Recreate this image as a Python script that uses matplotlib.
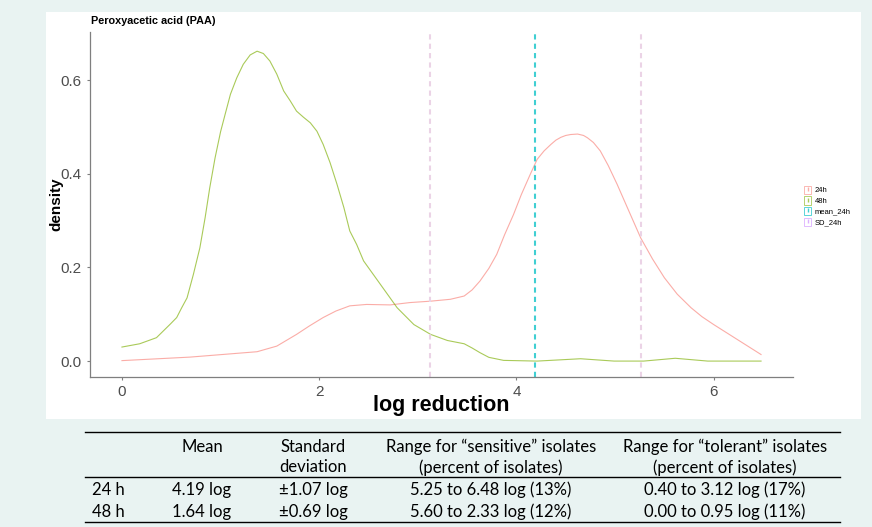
import matplotlib
matplotlib.use("Agg")
import matplotlib.pyplot as plt
from matplotlib.lines import Line2D
from matplotlib.patches import Patch, Rectangle

# density curves
x_24h = [0, 0.69, 1.37, 1.57, 1.77, 1.90, 2.04, 2.17, 2.31, 2.48, 2.72, 2.92, 3.13,
         3.33, 3.47, 3.55, 3.63, 3.72, 3.80, 3.88, 3.97, 4.05, 4.14, 4.21, 4.28,
         4.35, 4.40, 4.45, 4.50, 4.55, 4.62, 4.68, 4.72, 4.78, 4.85, 4.93, 5.02,
         5.12, 5.26, 5.38, 5.50, 5.63, 5.77, 5.88, 6.00, 6.24, 6.48]
d_24h = [0.001, 0.0085, 0.02, 0.032, 0.057, 0.075, 0.093, 0.107, 0.118, 0.121, 0.120,
         0.125, 0.128, 0.132, 0.139, 0.152, 0.171, 0.198, 0.228, 0.27, 0.313, 0.356,
         0.399, 0.431, 0.449, 0.463, 0.472, 0.478, 0.482, 0.484, 0.485, 0.482, 0.477,
         0.467, 0.449, 0.418, 0.378, 0.33, 0.263, 0.218, 0.178, 0.143, 0.114, 0.095,
         0.078, 0.046, 0.014]

x_48h = [0, 0.18, 0.35, 0.49, 0.555, 0.606, 0.66, 0.724, 0.79, 0.843, 0.89, 0.944,
         1.0, 1.046, 1.10, 1.164, 1.23, 1.30, 1.37, 1.434, 1.50, 1.57, 1.64, 1.706,
         1.77, 1.84, 1.91, 1.977, 2.04, 2.11, 2.18, 2.25, 2.31, 2.38, 2.45, 2.535,
         2.62, 2.79, 2.96, 3.13, 3.30, 3.47, 3.55, 3.63, 3.72, 3.87, 4.21, 4.65,
         4.99, 5.29, 5.61, 5.94, 6.48]
d_48h = [0.030, 0.037, 0.05, 0.079, 0.093, 0.114, 0.135, 0.185, 0.242, 0.306, 0.37,
         0.434, 0.49, 0.527, 0.57, 0.605, 0.634, 0.654, 0.662, 0.657, 0.641, 0.613,
         0.577, 0.556, 0.534, 0.521, 0.509, 0.491, 0.463, 0.424, 0.378, 0.328, 0.278,
         0.249, 0.214, 0.189, 0.164, 0.114, 0.078, 0.057, 0.044, 0.037, 0.028, 0.018,
         0.008, 0.0015, 0.0, 0.005, 0.0, 0.0, 0.006, 0.0, 0.0]

mean_24h = 4.19
sd_24h = 1.07

x_ticks = [0, 2, 4, 6]
y_ticks = [0.0, 0.2, 0.4, 0.6]

legend_labels = ["24h", "48h", "mean_24h", "SD_24h"]

table_header = ["", "Mean", "Standard\ndeviation",
                "Range for \u201csensitive\u201d isolates\n(percent of isolates)",
                "Range for \u201ctolerant\u201d isolates\n(percent of isolates)"]
table_rows = [
    ["24 h", "4.19 log", "\u00b11.07 log", "5.25 to 6.48 log (13%)", "0.40 to 3.12 log (17%)"],
    ["48 h", "1.64 log", "\u00b10.69 log", "5.60 to 2.33 log (12%)", "0.00 to 0.95 log (11%)"],
]

c_24 = "#F8766D"
c_48 = "#7CAE00"
c_mean = "#00BFC4"
c_sd = "#EBD3E6"
bg = "#E9F3F2"

plt.rcParams['font.family'] = ['Liberation Sans', 'DejaVu Sans']

fig = plt.figure(figsize=(8.72, 5.27), dpi=100)
fig.patch.set_facecolor(bg)
W, H = 872, 527

# white panel behind the plot
fig.add_artist(Rectangle((46 / W, 1 - 419 / H), (861 - 46) / W, (419 - 12) / H,
                         transform=fig.transFigure, facecolor="white", edgecolor="none", zorder=0))

ax = fig.add_axes([90 / W, 1 - 377 / H, (793 - 90) / W, (377 - 32) / H])
ax.set_facecolor("none")

ax.plot(x_24h, d_24h, color=c_24, alpha=0.6, lw=0.8)
ax.plot(x_48h, d_48h, color=c_48, alpha=0.65, lw=0.8)
ax.axvline(mean_24h, color=c_mean, alpha=0.75, lw=1.5, ls=(0, (2.5, 2)))
for v in (mean_24h - sd_24h, mean_24h + sd_24h):
    ax.axvline(v, color=c_sd, lw=1.5, ls=(0, (2.5, 2)))

ax.set_xlim(-0.324, 6.804)
ax.set_ylim(-0.034, 0.703)
ax.set_xticks(x_ticks)
ax.set_xticklabels([str(t) for t in x_ticks])
ax.set_yticks(y_ticks)
ax.set_yticklabels(["%.1f" % t for t in y_ticks])
ax.tick_params(colors="#7F7F7F", labelcolor="#4D4D4D", labelsize=11, length=2.5, width=0.8)
for s in ("top", "right"):
    ax.spines[s].set_visible(False)
for s in ("left", "bottom"):
    ax.spines[s].set_color("#7F7F7F")
    ax.spines[s].set_linewidth(0.9)

fig.text(91 / W, 1 - 21 / H, "Peroxyacetic acid (PAA)", fontsize=7.8, fontweight="bold",
         va="center", ha="left")
fig.text(56 / W, 1 - 204 / H, "density", fontsize=11, fontweight="bold", rotation=90,
         va="center", ha="center")
fig.text(441 / W, 1 - 405 / H, "log reduction", fontsize=15.5, fontweight="bold",
         va="center", ha="center")

handles = []
for c, a in ((c_24, 0.6), (c_48, 0.65), (c_mean, 0.75), ("#C77CFF", 0.6)):
    handles.append((Patch(facecolor="none", edgecolor=c, alpha=a, lw=0.6),
                    Line2D([], [], marker="|", ls="none", color=c, alpha=a, markersize=3)))
fig.legend(handles, legend_labels, loc="center left", bbox_to_anchor=(800 / W, 1 - 206 / H),
           frameon=False, fontsize=5.5, handlelength=1.0, handleheight=1.3,
           handletextpad=0.4, labelspacing=0.25, borderpad=0)

# table below the plot
tfont = ['Lato', 'DejaVu Sans']
col_x = [92, 202, 313, 491, 725]
col_ha = ["left", "center", "center", "center", "center"]
for x, txt, ha in zip(col_x, table_header, col_ha):
    # header cells are top aligned
    fig.text(x / W, 1 - 439 / H, txt, fontsize=12, family=tfont, ha=ha, va="top",
             ma="center", linespacing=1.3)
for r, y in zip(table_rows, (490, 512)):
    for x, txt, ha in zip(col_x, r, col_ha):
        fig.text(x / W, 1 - y / H, txt, fontsize=12, family=tfont, ha=ha, va="center")
for y in (432, 477, 522):
    fig.add_artist(Line2D([85 / W, 840 / W], [1 - y / H, 1 - y / H], transform=fig.transFigure,
                          color="black", lw=1.0))

fig.savefig("out.png", dpi=100, facecolor=fig.get_facecolor())
